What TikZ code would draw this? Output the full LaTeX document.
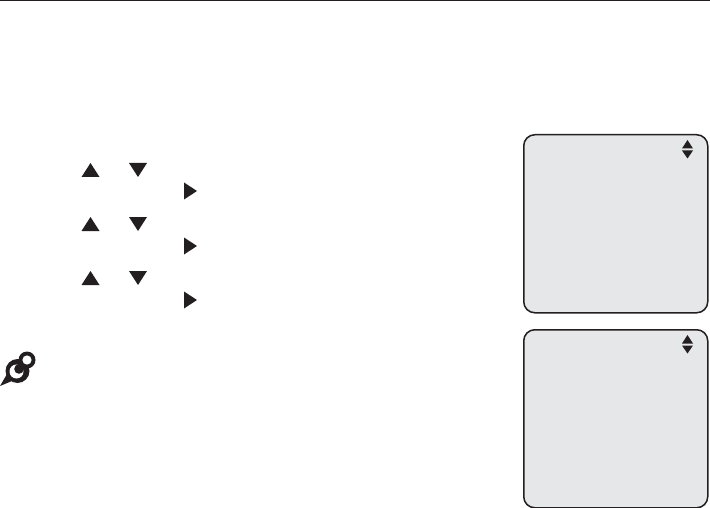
\documentclass[tikz,border=0pt]{standalone}
\definecolor{ink}{HTML}{231F20}
\definecolor{screen}{HTML}{E6E7E8}
\tikzset{
  screenbox/.style={draw=ink,fill=screen,line width=1.5pt,rounded corners=11pt},
  tri/.style={fill=ink,draw=none}
}
\newcommand{\upt}[2]{\fill[tri] (#1-9,#2+7) -- (#1+9,#2+7) -- (#1,#2-7) -- cycle;}
\newcommand{\dnt}[2]{\fill[tri] (#1-9,#2-7) -- (#1+9,#2-7) -- (#1,#2+7) -- cycle;}
\newcommand{\rtt}[2]{\fill[tri] (#1-6.5,#2-8.5) -- (#1+6.5,#2) -- (#1-6.5,#2+8.5) -- cycle;}
\newcommand{\scrn}[3]{%
  \node[screenbox,minimum width=184pt,minimum height=#3pt,inner sep=0pt,anchor=north west] (#1) at (523,#2) {};
  \fill[tri] (682,#2+14.5) -- (693,#2+14.5) -- (687.5,#2+6) -- cycle;
  \fill[tri] (682,#2+16.5) -- (693,#2+16.5) -- (687.5,#2+24.5) -- cycle;
}
\begin{document}
\begin{tikzpicture}[x=1pt,y=-1pt]
\useasboundingbox (0,0) rectangle (710,508);
\fill[white] (0,0) rectangle (710,508);
\fill[ink] (0,0) rectangle (710,1.5);
\scrn{first}{134}{178}
\scrn{second}{329}{178}
\foreach \yy in {170,224,278}{
  \upt{90.5}{\yy}
  \dnt{138}{\yy}
}
\foreach \yy in {191,246,300}{
  \rtt{190.5}{\yy}
}
% note pin
\fill[ink] (0,386) -- (7,374) -- (12,381) -- cycle;
\fill[ink] (17.5,371) circle[radius=12];
\draw[ink,line width=13pt] (19,369) -- (26,361);
\fill[ink] (27,360) circle[radius=8.5];
\fill[white] (16.5,371.5) circle[radius=7];
\fill[ink] (19,369) circle[radius=4.8];
\draw[ink,line width=6pt] (19,369) -- (25,362);
\fill[white] (27,360) circle[radius=4.6];
\end{tikzpicture}
\end{document}
